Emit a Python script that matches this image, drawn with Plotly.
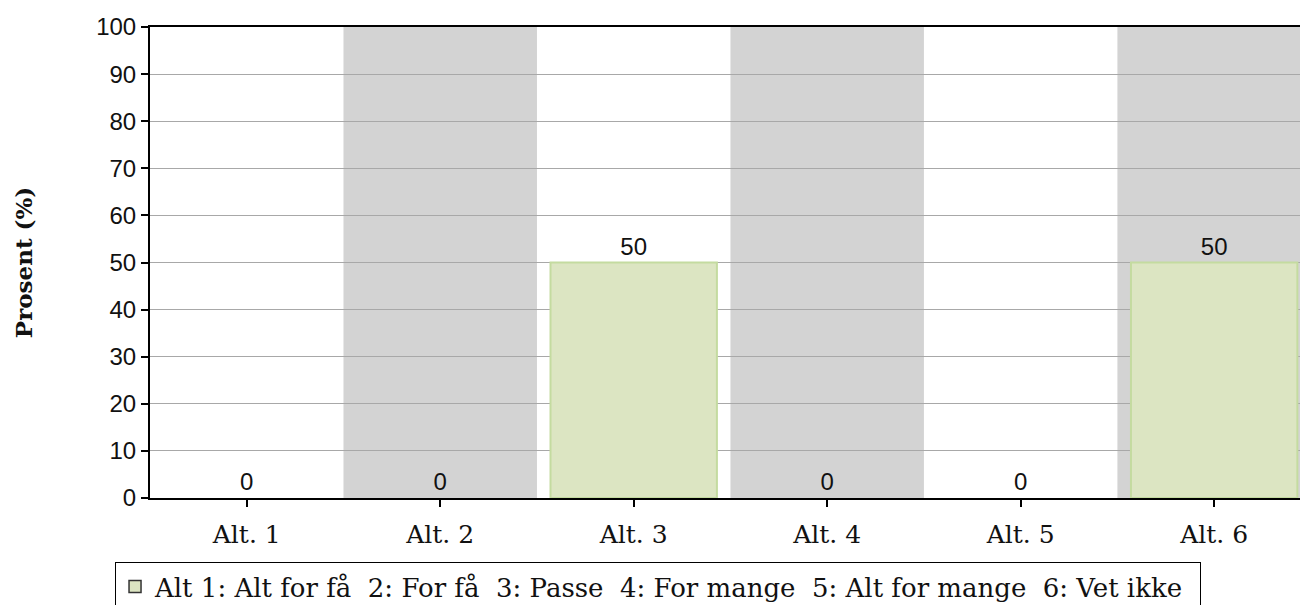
import plotly.graph_objects as go

categories = ["Alt. 1", "Alt. 2", "Alt. 3", "Alt. 4", "Alt. 5", "Alt. 6"]
values = [0, 0, 50, 0, 0, 50]
series_name = "Alt 1: Alt for få  2: For få  3: Passe  4: For mange  5: Alt for mange  6: Vet ikke"
y_ticks = [0, 10, 20, 30, 40, 50, 60, 70, 80, 90, 100]
shaded = ["Alt. 2", "Alt. 4", "Alt. 6"]

fig = go.Figure()
fig.add_trace(go.Bar(
    x=list(range(len(categories))), y=values, name=series_name,
    text=[str(v) for v in values], textposition="outside", cliponaxis=False,
    textfont=dict(family="Liberation Sans, Arial, sans-serif", size=24, color="#111"),
    marker=dict(color="#dce5c2",
                line=dict(color="#c4dba0", width=[2 if v > 0 else 0 for v in values])),
    width=0.86, showlegend=False, legendgroup="s",
))
# legend entry (swatch with dark outline as in the reference)
fig.add_trace(go.Bar(
    x=[None], y=[None], name=series_name, legendgroup="s", showlegend=True,
    marker=dict(color="#dce5c2", line=dict(color="#333333", width=1.5)),
))

shapes = []
for c in shaded:
    i = categories.index(c)
    shapes.append(dict(type="rect", xref="x", yref="paper", x0=i - 0.5, x1=i + 0.5,
                       y0=0, y1=1, fillcolor="#d3d3d3", line=dict(width=0), layer="below"))

fig.update_layout(
    width=1300, height=620,
    margin=dict(l=142, r=0, t=19, b=130),
    paper_bgcolor="white", plot_bgcolor="white",
    shapes=shapes,
    showlegend=True,
    barmode="overlay",
    legend=dict(orientation="h", x=-0.0302, y=-0.136, xanchor="left", yanchor="top",
                bordercolor="black", borderwidth=1, bgcolor="white",
                font=dict(family="DejaVu Serif, serif", size=26, color="#111"),
                itemwidth=30, entrywidth=1040),
    xaxis=dict(range=[-0.5, 5.485], tickmode="array", tickvals=list(range(len(categories))),
               ticktext=categories, showgrid=False, zeroline=False,
               showline=True, linecolor="black", linewidth=2, mirror=True,
               ticks="outside", ticklen=7, tickcolor="black", tickwidth=2,
               ticklabelstandoff=6,
               tickfont=dict(family="DejaVu Serif, serif", size=25, color="#111")),
    yaxis=dict(range=[0, 100], tickmode="array", tickvals=y_ticks,
               showgrid=True, gridcolor="#a8a8a8", gridwidth=1, zeroline=False,
               showline=True, linecolor="black", linewidth=2,
               ticks="outside", ticklen=7, tickcolor="black", tickwidth=2,
               tickfont=dict(family="Liberation Sans, Arial, sans-serif", size=24, color="#111"),
               title=dict(text="<b>Prosent (%)</b>", standoff=57,
                          font=dict(family="DejaVu Serif, serif", size=23, color="#111"))),
    bargap=0.14,
)

fig.write_html("out.html")
